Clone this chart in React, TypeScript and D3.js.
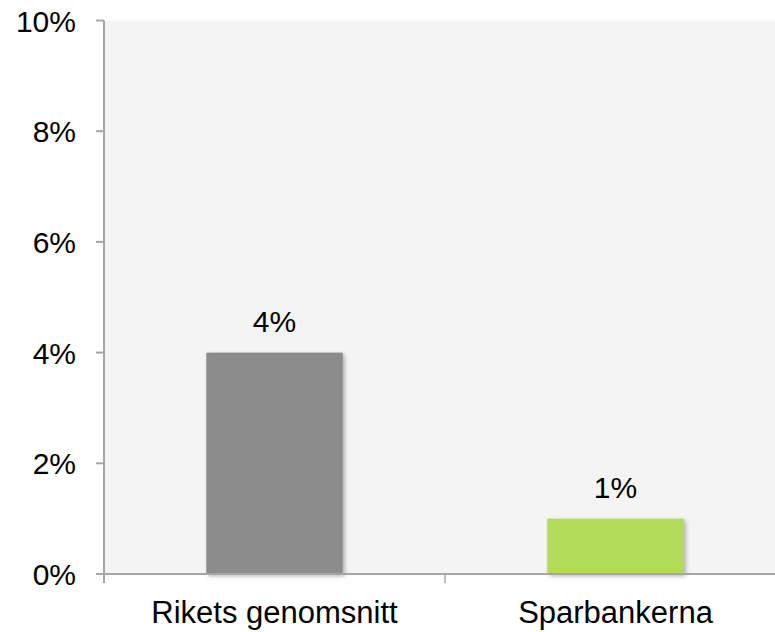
import React from "react";
import * as d3 from "d3";

const categories = ["Rikets genomsnitt", "Sparbankerna"];
const values = [4, 1];
const barColors = ["#8c8c8c", "#b2db58"];
const yTicks = [0, 2, 4, 6, 8, 10];

const W = 775;
const H = 632;
const left = 104;
const right = 786;
const top = 20.5;
const bottom = 574;
const font = "'Liberation Sans', Arial, sans-serif";
const axisColor = "#a6a6a6";

export default function App() {
  const x = d3.scaleBand<string>().domain(categories).range([left, right]).paddingInner(0).paddingOuter(0);
  const y = d3.scaleLinear().domain([0, 10]).range([bottom, top]);
  const bw = x.bandwidth() * 0.4;
  const bounds = [left, ...categories.map((c) => (x(c) as number) + x.bandwidth())];

  return (
    <div style={{ position: "fixed", left: 0, top: 0 }}>
      <svg width={W} height={H} style={{ display: "block", background: "#fff" }}>
        <defs>
          <filter id="sh" x="-10%" y="-10%" width="130%" height="130%">
            <feDropShadow dx="2" dy="2" stdDeviation="2" floodColor="#000" floodOpacity="0.3" />
          </filter>
        </defs>
        <rect x={left} y={top} width={right - left} height={bottom - top} fill="#f4f4f4" />
        {categories.map((c, i) => {
          const cx = (x(c) as number) + x.bandwidth() / 2;
          return (
            <g key={c}>
              <rect
                x={cx - bw / 2}
                y={y(values[i])}
                width={bw}
                height={bottom - y(values[i])}
                fill={barColors[i]}
                filter="url(#sh)"
              />
              <text x={cx} y={y(values[i]) - 21} textAnchor="middle" fontFamily={font} fontSize={30} fill="#000">
                {values[i]}%
              </text>
              <text x={cx} y={623} textAnchor="middle" fontFamily={font} fontSize={31} fill="#000">
                {c}
              </text>
            </g>
          );
        })}
        <line x1={left} x2={left} y1={top} y2={583} stroke={axisColor} strokeWidth={2} />
        <line x1={left} x2={right} y1={bottom} y2={bottom} stroke={axisColor} strokeWidth={2} />
        {bounds.map((b, i) => (
          <line key={i} x1={b} x2={b} y1={bottom} y2={583} stroke={axisColor} strokeWidth={1.5} />
        ))}
        {yTicks.map((t) => (
          <g key={t}>
            <line x1={96} x2={left} y1={y(t)} y2={y(t)} stroke={axisColor} strokeWidth={2} />
            <text x={76} y={y(t) + 11} textAnchor="end" fontFamily={font} fontSize={30} fill="#000">
              {t}%
            </text>
          </g>
        ))}
      </svg>
    </div>
  );
}
